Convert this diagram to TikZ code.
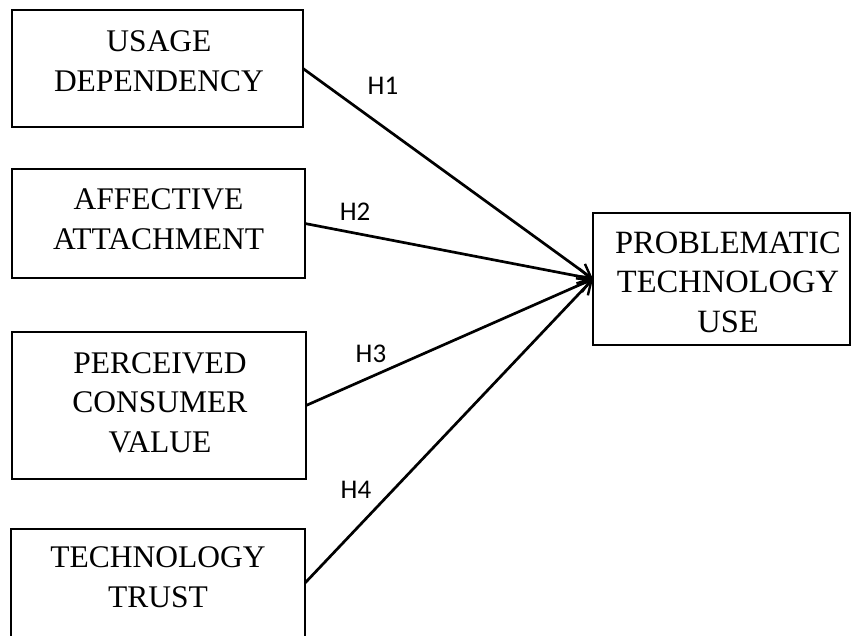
\documentclass[tikz,border=0pt]{standalone}
\usepackage{fontspec}
\setmainfont{Liberation Serif}
\newfontfamily\hfont{Carlito}
\usetikzlibrary{arrows.meta}
\tikzset{
  box/.style={draw, line width=1.3pt, inner sep=0pt, outer sep=0pt},
  boxtext/.style={align=center, font=\fontsize{31.5}{39.5}\selectfont, inner sep=0pt},
  bigtext/.style={align=center, font=\fontsize{32.5}{39.5}\selectfont, inner sep=0pt},
  hyp/.style={font=\hfont\fontsize{27}{30}\selectfont, inner sep=0pt},
  link/.style={line width=2.7pt, -{Straight Barb[length=13pt,width=15pt,line width=2.4pt]}}
}
\begin{document}
\begin{tikzpicture}[x=1pt,y=-1pt]
\useasboundingbox (0,0) rectangle (852,635);
\clip (0,0) rectangle (852,635);
\fill[white] (0,0) rectangle (852,635);
\node[box, minimum width=291pt, minimum height=117pt] (b1) at (157.5,68.5) {};
\node[box, minimum width=293pt, minimum height=109pt] (b2) at (158.5,223.5) {};
\node[box, minimum width=294pt, minimum height=147pt] (b3) at (159,405.5) {};
\node[box, minimum width=294pt, minimum height=108pt] (b4) at (158,583) {};
\node[box, minimum width=257pt, minimum height=132pt] (b5) at (721.5,279) {};
\node[boxtext] (t1) at (159,61) {USAGE\\DEPENDENCY};
\node[boxtext] (t2) at (158.5,219) {AFFECTIVE\\ATTACHMENT};
\node[boxtext] (t3) at (160,402.5) {PERCEIVED\\CONSUMER\\VALUE};
\node[boxtext] (t4) at (158,577) {TECHNOLOGY\\TRUST};
\node[bigtext] (t5) at (728,282) {PROBLEMATIC\\TECHNOLOGY\\USE};
\draw[link] (b1.east) -- (b5.west);
\draw[link] (b2.east) -- (b5.west);
\draw[link] (b3.east) -- (b5.west);
\draw[link] (b4.east) -- (b5.west);
\node[hyp] (h1) at (383,86) {H1};
\node[hyp] (h2) at (355,212) {H2};
\node[hyp] (h3) at (371,354) {H3};
\node[hyp] (h4) at (356,490) {H4};
\end{tikzpicture}
\end{document}
